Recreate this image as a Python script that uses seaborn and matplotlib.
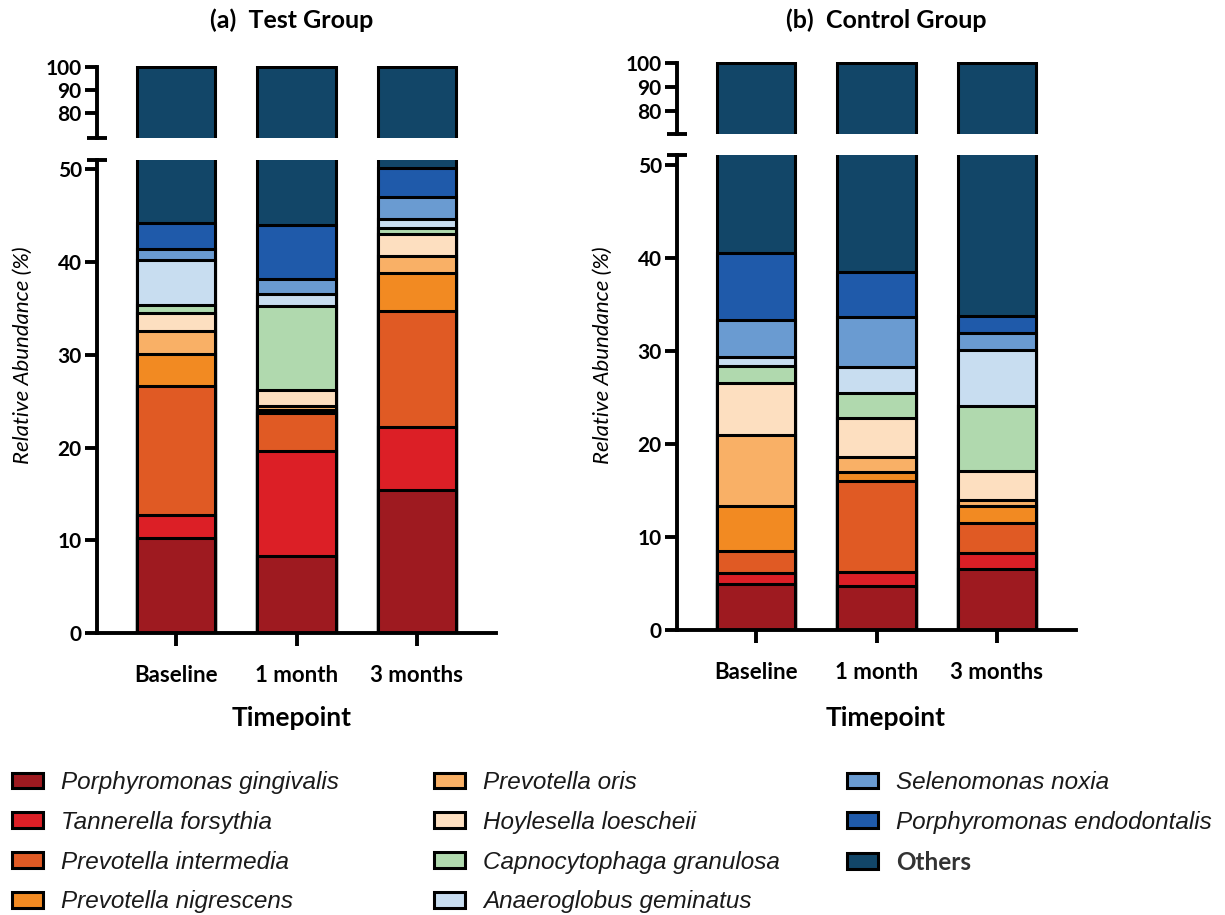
import numpy as np
import pandas as pd
import matplotlib
matplotlib.use('Agg')
import matplotlib.pyplot as plt
from matplotlib.patches import Patch
import seaborn as sns

timepoints = ['Baseline', '1 month', '3 months']

species = ['Porphyromonas gingivalis', 'Tannerella forsythia', 'Prevotella intermedia',
           'Prevotella nigrescens', 'Prevotella oris', 'Hoylesella loescheii',
           'Capnocytophaga granulosa', 'Anaeroglobus geminatus', 'Selenomonas noxia',
           'Porphyromonas endodontalis', 'Others']

colors = ['#9e1a20', '#dc1f26', '#e05a24', '#f28a22', '#f9b066', '#fddfc0',
          '#b0d9ae', '#c8ddf0', '#6a9bd1', '#1f5aaa', '#124668']

# relative abundance (%), one value per timepoint (Baseline, 1 month, 3 months)
test_pg = [10.2, 8.3, 15.4]
test_tf = [2.5, 11.3, 6.8]
test_pi = [13.9, 4.1, 12.5]
test_pn = [3.5, 0.35, 4.1]
test_po = [2.5, 0.45, 1.9]
test_hl = [1.9, 1.65, 2.3]
test_cg = [0.9, 9.15, 0.65]
test_ag = [4.8, 1.2, 0.95]
test_sn = [1.15, 1.7, 2.45]
test_pe = [2.9, 5.75, 3.05]
test_others = [55.75, 56.05, 49.9]

ctrl_pg = [5.0, 4.75, 6.6]
ctrl_tf = [1.15, 1.5, 1.65]
ctrl_pi = [2.4, 9.75, 3.3]
ctrl_pn = [4.75, 0.95, 1.8]
ctrl_po = [7.7, 1.65, 0.65]
ctrl_hl = [5.55, 4.2, 3.15]
ctrl_cg = [1.85, 2.7, 6.95]
ctrl_ag = [1.0, 2.8, 6.05]
ctrl_sn = [3.95, 5.4, 1.85]
ctrl_pe = [7.25, 4.8, 1.75]
ctrl_others = [59.4, 61.5, 66.25]

test_vals = [test_pg, test_tf, test_pi, test_pn, test_po, test_hl,
             test_cg, test_ag, test_sn, test_pe, test_others]
ctrl_vals = [ctrl_pg, ctrl_tf, ctrl_pi, ctrl_pn, ctrl_po, ctrl_hl,
             ctrl_cg, ctrl_ag, ctrl_sn, ctrl_pe, ctrl_others]


def long_df(vals):
    rows = []
    for sp, v in zip(species, vals):
        for tp, a in zip(timepoints, v):
            rows.append({'Timepoint': tp, 'Species': sp, 'Abundance': a})
    d = pd.DataFrame(rows)
    d['Cum'] = d.groupby('Timepoint')['Abundance'].cumsum()
    return d


sns.set_style('ticks')
plt.rcParams['font.family'] = ['Lato', 'DejaVu Sans']
plt.rcParams['axes.edgecolor'] = 'black'
plt.rcParams['xtick.color'] = 'black'
plt.rcParams['ytick.color'] = 'black'
plt.rcParams['text.color'] = 'black'

W, H = 1225, 915
fig = plt.figure(figsize=(W / 100, H / 100), dpi=100)

LW = 2.8
XLIM = (-0.656, 2.656)


def ax_px(x0, x1, ytop, ybot):
    return fig.add_axes([x0 / W, 1 - ybot / H, (x1 - x0) / W, (ybot - ytop) / H])


def draw_stack(ax, d):
    # draw cumulative totals from the top layer down so lower layers cover them
    for sp, c in reversed(list(zip(species, colors))):
        sns.barplot(data=d[d['Species'] == sp], x='Timepoint', y='Cum', order=timepoints,
                    color=c, saturation=1, width=0.65, edgecolor='black', linewidth=2.2,
                    errorbar=None, ax=ax)
    ax.set_xlim(*XLIM)
    ax.set_xlabel('')
    ax.set_ylabel('')


def cap(ax, y):
    ax.plot([XLIM[0]], [y], marker='_', ms=14, mew=LW, color='black', clip_on=False, zorder=5)


def panel(vals, x0, top_px, bot_px, top_lo, bot_hi, title, tx):
    d = long_df(vals)
    x1 = x0 + 399
    # upper part of broken axis: (pixel of 100, pixel of lower limit)
    p100, plo = top_px
    ppu = (plo - p100) / (100 - top_lo)
    axt = ax_px(x0, x1, p100 - 0.6 * ppu, plo)
    draw_stack(axt, d)
    axt.set_ylim(top_lo, 100.6)
    axt.set_yticks([80, 90, 100])
    axt.set_xticks([])
    for s in ['top', 'right', 'bottom']:
        axt.spines[s].set_visible(False)
    axt.spines['left'].set_linewidth(LW)
    axt.spines['left'].set_bounds(top_lo, 100)
    cap(axt, top_lo)

    # lower part
    p0, p51 = bot_px
    axb = ax_px(x0, x1, p51, p0)
    draw_stack(axb, d)
    axb.set_ylim(0, bot_hi)
    axb.set_yticks([0, 10, 20, 30, 40, 50])
    for s in ['top', 'right']:
        axb.spines[s].set_visible(False)
    axb.spines['left'].set_linewidth(LW)
    axb.spines['bottom'].set_linewidth(LW)
    cap(axb, bot_hi)
    axb.tick_params(axis='x', length=9, width=LW, pad=14, labelsize=16)
    plt.setp(axb.get_xticklabels(), fontweight='bold')

    for a in (axt, axb):
        a.tick_params(axis='y', length=9, width=LW, pad=2, labelsize=15)
        plt.setp(a.get_yticklabels(), fontweight='bold')

    fig.text(tx / W, 1 - 20 / H, title, ha='center', va='center', fontsize=18, fontweight='bold')
    fig.text(tx / W, 1 - 718 / H, 'Timepoint', ha='center', va='center', fontsize=19,
             fontweight='bold')
    fig.text((x0 - 74) / W, 1 - 355 / H, 'Relative Abundance (%)', rotation=90,
             ha='center', va='center', fontsize=16, fontstyle='italic')


panel(test_vals, 97, (67, 138), (633, 160), 69.1, 51.0, '(a)  Test Group', 292)
panel(ctrl_vals, 677, (63, 134), (630, 155), 70.3, 51.1, '(b)  Control Group', 886)

handles = [Patch(facecolor=c, edgecolor='black', linewidth=2.2) for c in colors]
groups = [(0, 4, 12), (4, 8, 434), (8, 11, 847)]
for i0, i1, xl in groups:
    leg = fig.legend(handles[i0:i1], species[i0:i1], loc='upper left',
                     bbox_to_anchor=(xl / W, 1 - 771 / H), frameon=False,
                     borderpad=0, borderaxespad=0, handlelength=1.28, handleheight=0.62,
                     handletextpad=0.74, labelspacing=0.69,
                     prop={'family': 'Liberation Sans', 'style': 'italic', 'size': 17.5})
    for t in leg.get_texts():
        t.set_color('#1a1a1a')
        if t.get_text() == 'Others':
            t.set_fontfamily('Lato')
            t.set_fontstyle('normal')
            t.set_fontweight('bold')
            t.set_color('#333333')

fig.savefig('out.png', dpi=100)
